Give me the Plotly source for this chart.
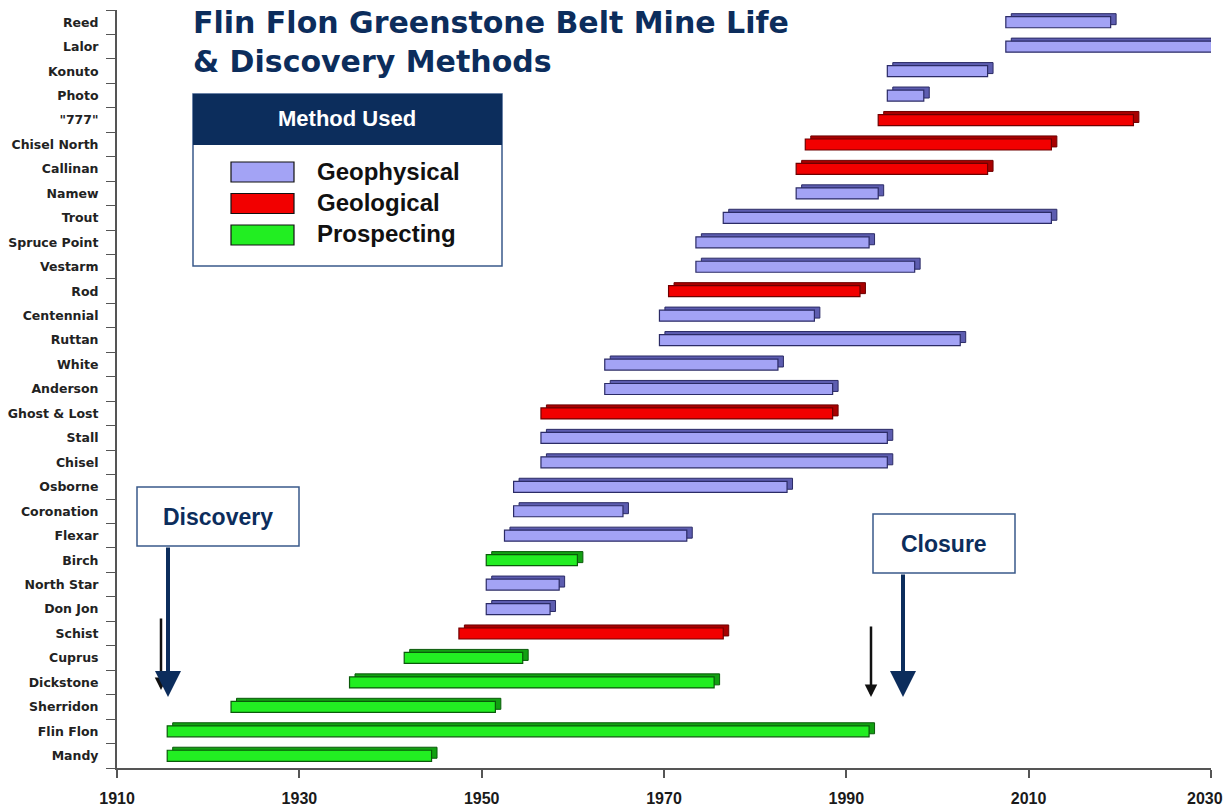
import plotly.graph_objects as go

# mine names, top to bottom as in the chart
mines = ["Reed", "Lalor", "Konuto", "Photo", "\"777\"", "Chisel North", "Callinan", "Namew",
         "Trout", "Spruce Point", "Vestarm", "Rod", "Centennial", "Ruttan", "White", "Anderson",
         "Ghost & Lost", "Stall", "Chisel", "Osborne", "Coronation", "Flexar", "Birch",
         "North Star", "Don Jon", "Schist", "Cuprus", "Dickstone", "Sherridon", "Flin Flon", "Mandy"]
method = ["Geophysical", "Geophysical", "Geophysical", "Geophysical", "Geological", "Geological",
          "Geological", "Geophysical", "Geophysical", "Geophysical", "Geophysical", "Geological",
          "Geophysical", "Geophysical", "Geophysical", "Geophysical", "Geological", "Geophysical",
          "Geophysical", "Geophysical", "Geophysical", "Geophysical", "Prospecting", "Geophysical",
          "Geophysical", "Geological", "Prospecting", "Prospecting", "Prospecting", "Prospecting",
          "Prospecting"]
start_year = [2007.5, 2007.5, 1994.5, 1994.5, 1993.5, 1985.5, 1984.5, 1984.5, 1976.5, 1973.5,
              1973.5, 1970.5, 1969.5, 1969.5, 1963.5, 1963.5, 1956.5, 1956.5, 1956.5, 1953.5,
              1953.5, 1952.5, 1950.5, 1950.5, 1950.5, 1947.5, 1941.5, 1935.5, 1922.5, 1915.5, 1915.5]
end_year = [2019, 2030.5, 2005.5, 1998.5, 2021.5, 2012.5, 2005.5, 1993.5, 2012.5, 1992.5,
            1997.5, 1991.5, 1986.5, 2002.5, 1982.5, 1988.5, 1988.5, 1994.5, 1994.5, 1983.5,
            1965.5, 1972.5, 1960.5, 1958.5, 1957.5, 1976.5, 1954.5, 1975.5, 1951.5, 1992.5, 1944.5]
year_ticks = [1910, 1930, 1950, 1970, 1990, 2010, 2030]

colors = {
    "Geophysical": ("#a3a3f5", "#2b2b66", "#5d5db0"),
    "Geological": ("#f20000", "#6e0000", "#a80000"),
    "Prospecting": ("#22ee22", "#0a5a0a", "#12a012"),
}
NAVY = "#0c2d5c"
TICKFONT = dict(size=16, weight="bold", color="#1a1a1a")

W, H = 1226, 811
L, R, T, B = 117, 15, 10, 43


def px(x):
    return (x - L) / (W - L - R)


def py(y):
    return (H - B - y) / (H - T - B)


fig = go.Figure()

for m, (fill, edge, side) in colors.items():
    idx = [i for i, k in enumerate(method) if k == m]
    names = [mines[i] for i in idx]
    s = [start_year[i] for i in idx]
    d = [end_year[i] - start_year[i] for i in idx]
    # darker "depth" bar behind, for the 3D look
    fig.add_trace(go.Bar(
        y=names, x=d, base=[v + 0.6 for v in s], orientation="h",
        width=0.45, offset=-0.1, marker=dict(color=side, line=dict(color=edge, width=1)),
        showlegend=False, hoverinfo="skip"))
    fig.add_trace(go.Bar(
        y=names, x=d, base=s, orientation="h", name=m,
        width=0.45, offset=-0.225, marker=dict(color=fill, line=dict(color=edge, width=1.2)),
        showlegend=False))

# last year label sits at the page edge, so it is drawn separately, right-aligned
tick_text = [str(y) for y in year_ticks[:-1]] + [""]

fig.update_layout(
    width=W, height=H, barmode="overlay",
    margin=dict(l=L, r=R, t=T, b=B, autoexpand=False),
    plot_bgcolor="white", paper_bgcolor="white",
    font=dict(family="Liberation Sans, Arial", color="#222"),
    xaxis=dict(range=[1909.99, 2030.01], tickvals=year_ticks, ticktext=tick_text,
               showgrid=False, zeroline=False,
               showline=True, linecolor="#555", linewidth=2, ticks="outside", ticklen=8,
               tickcolor="#555", tickwidth=1.5, ticklabelstandoff=7, tickfont=TICKFONT),
    yaxis=dict(categoryorder="array", categoryarray=mines[::-1], showgrid=False,
               showline=True, linecolor="#555", linewidth=2, ticks="outside", ticklen=9,
               tickcolor="#555", tickson="boundaries", ticklabelstandoff=14,
               tickfont=dict(family="DejaVu Sans", size=12.5, weight="bold", color="#222")),
)

fig.add_annotation(xref="paper", yref="paper", x=px(1225), y=py(798), xanchor="right", yanchor="middle",
                   showarrow=False, text=str(year_ticks[-1]), font=TICKFONT)

# title
fig.add_annotation(xref="paper", yref="paper", x=px(191), y=py(3), xanchor="left", yanchor="top",
                   align="left", showarrow=False,
                   text="Flin Flon Greenstone Belt Mine Life<br>& Discovery Methods",
                   font=dict(family="DejaVu Sans", size=30, weight="bold", color=NAVY))

# legend box
fig.add_shape(type="rect", xref="paper", yref="paper", x0=px(193), x1=px(502), y0=py(266), y1=py(94),
              line=dict(color="#3a5a8a", width=1.5), fillcolor="white")
fig.add_shape(type="rect", xref="paper", yref="paper", x0=px(193), x1=px(502), y0=py(145), y1=py(94),
              line=dict(width=0), fillcolor=NAVY)
fig.add_annotation(xref="paper", yref="paper", x=px(347), y=py(119), xanchor="center", yanchor="middle",
                   showarrow=False, text="Method Used", font=dict(size=22, weight="bold", color="white"))
for i, (m, (fill, edge, side)) in enumerate(colors.items()):
    yc = 172 + i * 31.5
    fig.add_shape(type="rect", xref="paper", yref="paper", x0=px(231), x1=px(294),
                  y0=py(yc + 10), y1=py(yc - 10), fillcolor=fill, line=dict(color="#111", width=1.2))
    fig.add_annotation(xref="paper", yref="paper", x=px(315), y=py(yc - 1), xanchor="left", yanchor="middle",
                       showarrow=False, text=m, font=dict(size=24, weight="bold", color="#111"))

# small black arrows from the original chart
for xa, y0, y1 in [(161, 617, 690), (871, 625, 697)]:
    fig.add_annotation(xref="paper", yref="paper", x=px(xa), y=py(y1), ax=0, ay=-(y1 - y0),
                       showarrow=True, arrowhead=2, arrowsize=1, arrowwidth=2.5,
                       arrowcolor="#111", text="")

# Discovery / Closure callouts
for label, x0, x1, y0, y1, xa in [("Discovery", 137, 299, 487, 546, 168),
                                  ("Closure", 873, 1015, 514, 573, 903)]:
    fig.add_shape(type="rect", xref="paper", yref="paper", x0=px(x0), x1=px(x1), y0=py(y1), y1=py(y0),
                  line=dict(color="#3a5a8a", width=1.5), fillcolor="white")
    fig.add_annotation(xref="paper", yref="paper", x=px((x0 + x1) / 2), y=py((y0 + y1) / 2),
                       xanchor="center", yanchor="middle",
                       showarrow=False, text=label, font=dict(size=23, weight="bold", color=NAVY))
    fig.add_annotation(xref="paper", yref="paper", x=px(xa), y=py(697), ax=0, ay=-(697 - y1),
                       showarrow=True, arrowhead=2, arrowsize=1.3, arrowwidth=4,
                       arrowcolor=NAVY, text="")

fig.write_html("out.html", config={"displayModeBar": False},
               post_script="document.body.style.margin='0';")
